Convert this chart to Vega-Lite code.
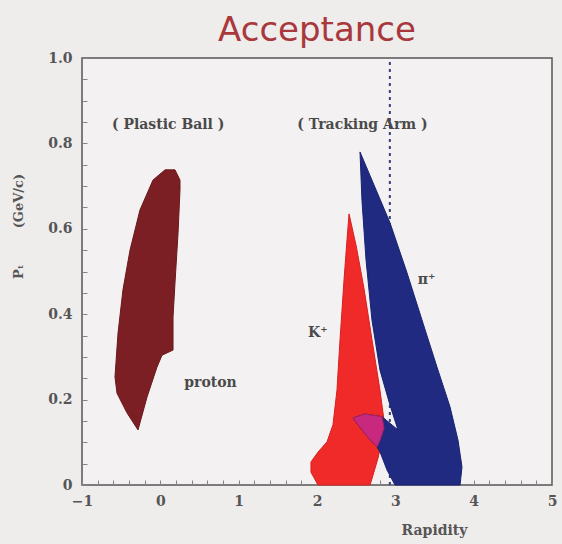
{
  "$schema": "https://vega.github.io/schema/vega-lite/v6.json",
  "width": 470,
  "height": 427,
  "autosize": "none",
  "padding": {"left": 82, "top": 58, "right": 10, "bottom": 59},
  "background": "#efecec",
  "title": {
    "text": "Acceptance",
    "font": "DejaVu Sans",
    "fontSize": 34,
    "fontWeight": "normal",
    "color": "#a8383c",
    "anchor": "middle",
    "offset": 3
  },
  "config": {
    "view": {"stroke": "#555555", "strokeWidth": 1.5, "fill": "#f3f1f1"},
    "axis": {
      "domain": false,
      "grid": false,
      "labelFont": "DejaVu Serif",
      "labelFontWeight": "bold",
      "labelFontSize": 14,
      "labelColor": "#555555",
      "tickColor": "#8a8080",
      "titleFont": "DejaVu Serif",
      "titleFontWeight": "bold",
      "titleFontSize": 13,
      "titleColor": "#555555"
    }
  },
  "datasets": {
    "shapes": [
      {"shape": "proton", "i": 0, "x": -0.285, "y": 0.129},
      {"shape": "proton", "i": 1, "x": -0.426, "y": 0.169},
      {"shape": "proton", "i": 2, "x": -0.553, "y": 0.215},
      {"shape": "proton", "i": 3, "x": -0.579, "y": 0.253},
      {"shape": "proton", "i": 4, "x": -0.54, "y": 0.356},
      {"shape": "proton", "i": 5, "x": -0.477, "y": 0.457},
      {"shape": "proton", "i": 6, "x": -0.387, "y": 0.55},
      {"shape": "proton", "i": 7, "x": -0.26, "y": 0.644},
      {"shape": "proton", "i": 8, "x": -0.094, "y": 0.714},
      {"shape": "proton", "i": 9, "x": 0.06, "y": 0.738},
      {"shape": "proton", "i": 10, "x": 0.187, "y": 0.738},
      {"shape": "proton", "i": 11, "x": 0.251, "y": 0.714},
      {"shape": "proton", "i": 12, "x": 0.251, "y": 0.691},
      {"shape": "proton", "i": 13, "x": 0.226, "y": 0.59},
      {"shape": "proton", "i": 14, "x": 0.187, "y": 0.473},
      {"shape": "proton", "i": 15, "x": 0.162, "y": 0.393},
      {"shape": "proton", "i": 16, "x": 0.162, "y": 0.316},
      {"shape": "proton", "i": 17, "x": 0.021, "y": 0.304},
      {"shape": "proton", "i": 18, "x": -0.043, "y": 0.276},
      {"shape": "proton", "i": 19, "x": -0.17, "y": 0.206},
      {"shape": "proton", "i": 20, "x": -0.285, "y": 0.129},

      {"shape": "kaon", "i": 0, "x": 2.409, "y": 0.635},
      {"shape": "kaon", "i": 1, "x": 2.5, "y": 0.56},
      {"shape": "kaon", "i": 2, "x": 2.6, "y": 0.46},
      {"shape": "kaon", "i": 3, "x": 2.702, "y": 0.34},
      {"shape": "kaon", "i": 4, "x": 2.804, "y": 0.222},
      {"shape": "kaon", "i": 5, "x": 2.855, "y": 0.152},
      {"shape": "kaon", "i": 6, "x": 2.83, "y": 0.105},
      {"shape": "kaon", "i": 7, "x": 2.779, "y": 0.063},
      {"shape": "kaon", "i": 8, "x": 2.715, "y": 0.023},
      {"shape": "kaon", "i": 9, "x": 2.677, "y": 0.0},
      {"shape": "kaon", "i": 10, "x": 2.013, "y": 0.0},
      {"shape": "kaon", "i": 11, "x": 1.923, "y": 0.03},
      {"shape": "kaon", "i": 12, "x": 1.923, "y": 0.054},
      {"shape": "kaon", "i": 13, "x": 2.013, "y": 0.077},
      {"shape": "kaon", "i": 14, "x": 2.128, "y": 0.101},
      {"shape": "kaon", "i": 15, "x": 2.204, "y": 0.141},
      {"shape": "kaon", "i": 16, "x": 2.255, "y": 0.222},
      {"shape": "kaon", "i": 17, "x": 2.294, "y": 0.34},
      {"shape": "kaon", "i": 18, "x": 2.345, "y": 0.48},
      {"shape": "kaon", "i": 19, "x": 2.383, "y": 0.574},
      {"shape": "kaon", "i": 20, "x": 2.409, "y": 0.635},

      {"shape": "pion", "i": 0, "x": 2.549, "y": 0.78},
      {"shape": "pion", "i": 1, "x": 2.932, "y": 0.614},
      {"shape": "pion", "i": 2, "x": 3.149, "y": 0.497},
      {"shape": "pion", "i": 3, "x": 3.353, "y": 0.379},
      {"shape": "pion", "i": 4, "x": 3.532, "y": 0.276},
      {"shape": "pion", "i": 5, "x": 3.698, "y": 0.183},
      {"shape": "pion", "i": 6, "x": 3.8, "y": 0.105},
      {"shape": "pion", "i": 7, "x": 3.851, "y": 0.042},
      {"shape": "pion", "i": 8, "x": 3.826, "y": 0.0},
      {"shape": "pion", "i": 9, "x": 2.996, "y": 0.0},
      {"shape": "pion", "i": 10, "x": 2.894, "y": 0.035},
      {"shape": "pion", "i": 11, "x": 2.81, "y": 0.075},
      {"shape": "pion", "i": 12, "x": 2.766, "y": 0.089},
      {"shape": "pion", "i": 13, "x": 2.651, "y": 0.112},
      {"shape": "pion", "i": 14, "x": 2.523, "y": 0.141},
      {"shape": "pion", "i": 15, "x": 2.46, "y": 0.157},
      {"shape": "pion", "i": 16, "x": 2.613, "y": 0.166},
      {"shape": "pion", "i": 17, "x": 2.83, "y": 0.16},
      {"shape": "pion", "i": 18, "x": 3.034, "y": 0.129},
      {"shape": "pion", "i": 19, "x": 2.932, "y": 0.187},
      {"shape": "pion", "i": 20, "x": 2.804, "y": 0.269},
      {"shape": "pion", "i": 21, "x": 2.702, "y": 0.386},
      {"shape": "pion", "i": 22, "x": 2.626, "y": 0.527},
      {"shape": "pion", "i": 23, "x": 2.574, "y": 0.667},
      {"shape": "pion", "i": 24, "x": 2.549, "y": 0.78},

      {"shape": "overlap", "i": 0, "x": 2.46, "y": 0.157},
      {"shape": "overlap", "i": 1, "x": 2.613, "y": 0.166},
      {"shape": "overlap", "i": 2, "x": 2.83, "y": 0.16},
      {"shape": "overlap", "i": 3, "x": 2.855, "y": 0.133},
      {"shape": "overlap", "i": 4, "x": 2.804, "y": 0.105},
      {"shape": "overlap", "i": 5, "x": 2.766, "y": 0.089},
      {"shape": "overlap", "i": 6, "x": 2.651, "y": 0.112},
      {"shape": "overlap", "i": 7, "x": 2.523, "y": 0.141},
      {"shape": "overlap", "i": 8, "x": 2.46, "y": 0.157}
    ],
    "labels": [
      {"label": "( Plastic Ball )", "x": 0.1, "y": 0.843},
      {"label": "( Tracking Arm )", "x": 2.58, "y": 0.843},
      {"label": "proton", "x": 0.64, "y": 0.239},
      {"label": "K⁺", "x": 2.01, "y": 0.356},
      {"label": "π⁺", "x": 3.4, "y": 0.48}
    ],
    "cut": [{"x": 2.93, "y": 0, "y2": 1}]
  },
  "encoding": {
    "x": {
      "field": "x", "type": "quantitative",
      "scale": {"domain": [-1, 5], "nice": false, "zero": false},
      "axis": {
        "title": "Rapidity",
        "titleFontSize": 14,
        "titleX": 352, "titleY": 45, "titleBaseline": "middle",
        "values": [-1, -0.8, -0.6, -0.4, -0.2, 0, 0.2, 0.4, 0.6, 0.8, 1, 1.2, 1.4, 1.6, 1.8, 2, 2.2, 2.4, 2.6, 2.8, 3, 3.2, 3.4, 3.6, 3.8, 4, 4.2, 4.4, 4.6, 4.8, 5],
        "labelExpr": "abs(datum.value - round(datum.value)) < 0.001 ? format(datum.value, 'd') : ''",
        "tickSize": -5,
        "labelPadding": 14,
        "labelFlush": false
      }
    },
    "y": {
      "field": "y", "type": "quantitative",
      "scale": {"domain": [0, 1], "nice": false},
      "axis": {
        "title": "Pₜ\u00a0\u00a0\u00a0\u00a0\u00a0\u00a0\u00a0\u00a0(GeV/c)",
        "titleAngle": -90,
        "titleX": -64, "titleY": 168, "titleBaseline": "middle", "titleAlign": "center",
        "values": [0, 0.05, 0.1, 0.15, 0.2, 0.25, 0.3, 0.35, 0.4, 0.45, 0.5, 0.55, 0.6, 0.65, 0.7, 0.75, 0.8, 0.85, 0.9, 0.95, 1],
        "labelExpr": "abs(datum.value * 5 - round(datum.value * 5)) < 0.001 ? (datum.value == 0 ? '0' : format(datum.value, '.1f')) : ''",
        "tickSize": -5,
        "labelPadding": 15,
        "labelFlush": false
      }
    }
  },
  "layer": [
    {
      "data": {"name": "cut"},
      "mark": {"type": "rule", "stroke": "#3a3f78", "strokeWidth": 2, "strokeDash": [3, 4]},
      "encoding": {"y2": {"field": "y2"}}
    },
    {
      "data": {"name": "shapes"},
      "transform": [{"filter": "datum.shape == 'proton'"}],
      "mark": {"type": "line", "fill": "#7b1f24", "stroke": "#6a181c", "strokeWidth": 1},
      "encoding": {"order": {"field": "i", "type": "quantitative"}}
    },
    {
      "data": {"name": "shapes"},
      "transform": [{"filter": "datum.shape == 'kaon'"}],
      "mark": {"type": "line", "fill": "#f02a28", "stroke": "#d82020", "strokeWidth": 1},
      "encoding": {"order": {"field": "i", "type": "quantitative"}}
    },
    {
      "data": {"name": "shapes"},
      "transform": [{"filter": "datum.shape == 'pion'"}],
      "mark": {"type": "line", "fill": "#1f2a80", "stroke": "#1a2370", "strokeWidth": 1},
      "encoding": {"order": {"field": "i", "type": "quantitative"}}
    },
    {
      "data": {"name": "shapes"},
      "transform": [{"filter": "datum.shape == 'overlap'"}],
      "mark": {"type": "line", "fill": "#c8287e", "stroke": "#a82068", "strokeWidth": 1},
      "encoding": {"order": {"field": "i", "type": "quantitative"}}
    },
    {
      "data": {"name": "labels"},
      "mark": {"type": "text", "font": "DejaVu Serif", "fontWeight": "bold", "fontSize": 14, "color": "#4a4a4a"},
      "encoding": {"text": {"field": "label"}}
    }
  ]
}
